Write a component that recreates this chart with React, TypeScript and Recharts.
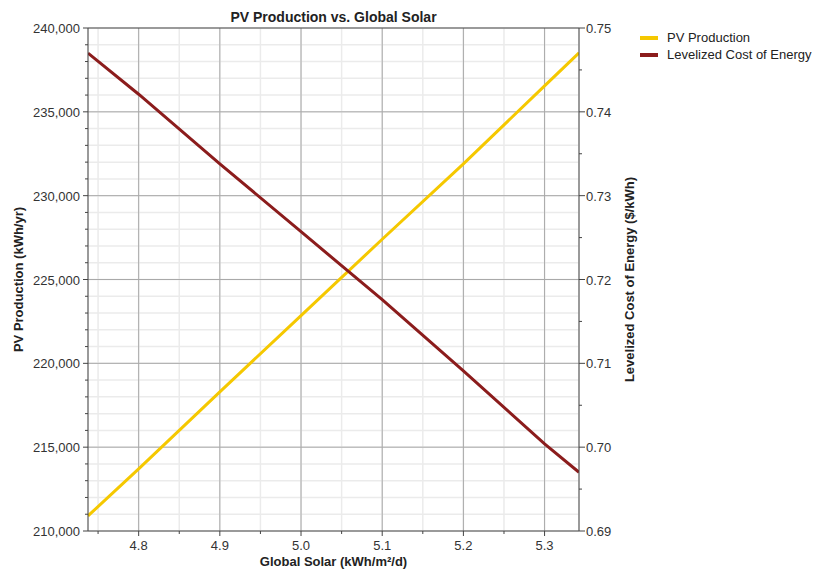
import React from 'react';
import { LineChart, Line, XAxis, YAxis, CartesianGrid, ReferenceLine } from 'recharts';

// values
const globalSolar = [4.7376, 4.8, 4.9, 5.0, 5.1, 5.2, 5.3, 5.3424];
const pvProduction = [210900, 213700, 218300, 222850, 227400, 231900, 236550, 238520];
const levelizedCost = [0.7470, 0.7421, 0.7338, 0.7257, 0.7176, 0.7091, 0.7004, 0.6970];

const xTicks = [4.75, 4.8, 4.85, 4.9, 4.95, 5.0, 5.05, 5.1, 5.15, 5.2, 5.25, 5.3];
const xMajor = [4.8, 4.9, 5.0, 5.1, 5.2, 5.3];
const leftTicks = [
  210000, 211000, 212000, 213000, 214000, 215000, 216000, 217000, 218000, 219000,
  220000, 221000, 222000, 223000, 224000, 225000, 226000, 227000, 228000, 229000,
  230000, 231000, 232000, 233000, 234000, 235000, 236000, 237000, 238000, 239000, 240000,
];
const leftMajor = [210000, 215000, 220000, 225000, 230000, 235000, 240000];
const rightTicks = [0.69, 0.695, 0.7, 0.705, 0.71, 0.715, 0.72, 0.725, 0.73, 0.735, 0.74, 0.745, 0.75];
const rightMajor = [0.69, 0.7, 0.71, 0.72, 0.73, 0.74, 0.75];

const seriesNames = ['PV Production', 'Levelized Cost of Energy'];
const seriesColors = ['#f5c800', '#8b1c1c'];

const data = globalSolar.map((x, i) => ({ x, pv: pvProduction[i], lcoe: levelizedCost[i] }));

const FONT = '"Liberation Sans", Arial, sans-serif';
const AXIS = '#444';
const MAJOR_GRID = '#a9a9a9';

const isMajor = (list: number[], v: number) => list.some((m) => Math.abs(m - v) < 1e-9);

const XTick = (props: any) => {
  const { x, y, payload } = props;
  const major = isMajor(xMajor, payload.value);
  return (
    <g>
      <line x1={x} x2={x} y1={y} y2={y + (major ? 5 : 3)} stroke={AXIS} />
      {major && (
        <text x={x} y={y + 19} textAnchor="middle" fontSize={13} fontFamily={FONT} fill="#333">
          {payload.value.toFixed(1)}
        </text>
      )}
    </g>
  );
};

const LeftTick = (props: any) => {
  const { x, y, payload } = props;
  const major = isMajor(leftMajor, payload.value);
  return (
    <g>
      <line x1={x} x2={x - (major ? 5 : 3)} y1={y} y2={y} stroke={AXIS} />
      {major && (
        <text x={x - 8} y={y + 5} textAnchor="end" fontSize={13} fontFamily={FONT} fill="#333">
          {payload.value.toLocaleString('en-US')}
        </text>
      )}
    </g>
  );
};

const RightTick = (props: any) => {
  const { x, y, payload } = props;
  const major = isMajor(rightMajor, payload.value);
  return (
    <g>
      <line x1={x} x2={x + (major ? 6 : 3)} y1={y} y2={y} stroke={AXIS} />
      {major && (
        <text x={x + 7} y={y + 5} textAnchor="start" fontSize={13} fontFamily={FONT} fill="#333">
          {payload.value.toFixed(2)}
        </text>
      )}
    </g>
  );
};

const labelStyle = { fontSize: 13, fontWeight: 'bold', fontFamily: FONT, fill: '#222' };

export default function App() {
  return (
    <div style={{ position: 'absolute', left: 0, top: 0, width: 830, height: 570, background: '#fff' }}>
      <LineChart width={830} height={570} data={data} margin={{ top: 28, right: 0, bottom: 0, left: 0 }}>
        <CartesianGrid yAxisId="left" stroke="#ebebeb" strokeWidth={1.5} />
        <XAxis
          dataKey="x"
          type="number"
          domain={[4.7376, 5.3424]}
          ticks={xTicks}
          interval={0}
          allowDataOverflow
          height={39}
          tickSize={0}
          tickMargin={0}
          tickLine={false}
          stroke={AXIS}
          tick={<XTick />}
          label={{ value: 'Global Solar (kWh/m²/d)', position: 'center', dy: 11, style: labelStyle }}
        />
        <YAxis
          yAxisId="left"
          orientation="left"
          domain={[210000, 240000]}
          ticks={leftTicks}
          interval={0}
          width={88}
          tickSize={0}
          tickMargin={0}
          tickLine={false}
          stroke={AXIS}
          tick={<LeftTick />}
          label={{ value: 'PV Production (kWh/yr)', angle: -90, position: 'center', dx: -26, style: labelStyle }}
        />
        <YAxis
          yAxisId="right"
          orientation="right"
          domain={[0.69, 0.75]}
          ticks={rightTicks}
          interval={0}
          width={251}
          tickSize={0}
          tickMargin={0}
          tickLine={false}
          stroke={AXIS}
          tick={<RightTick />}
          label={{ value: 'Levelized Cost of Energy ($/kWh)', angle: -90, position: 'center', dx: -75, style: labelStyle }}
        />
        {xMajor.map((v) => (
          <ReferenceLine key={'x' + v} x={v} yAxisId="left" stroke={MAJOR_GRID} />
        ))}
        {leftMajor.slice(1, -1).map((v) => (
          <ReferenceLine key={'y' + v} y={v} yAxisId="left" stroke={MAJOR_GRID} />
        ))}
        <ReferenceLine
          y={240000}
          yAxisId="left"
          stroke={AXIS}
          label={{ value: 'PV Production vs. Global Solar', position: 'top', offset: 6, style: { ...labelStyle, fontSize: 14 } }}
        />
        <Line
          yAxisId="left"
          dataKey="pv"
          name={seriesNames[0]}
          stroke={seriesColors[0]}
          strokeWidth={3}
          dot={false}
          isAnimationActive={false}
        />
        <Line
          yAxisId="right"
          dataKey="lcoe"
          name={seriesNames[1]}
          stroke={seriesColors[1]}
          strokeWidth={3}
          dot={false}
          isAnimationActive={false}
        />
      </LineChart>
      <div style={{ position: 'absolute', left: 640, top: 29, fontFamily: FONT, fontSize: 13, color: '#222' }}>
        {seriesNames.map((n, i) => (
          <div key={n} style={{ display: 'flex', alignItems: 'center', height: 17 }}>
            <span style={{ display: 'inline-block', width: 18, height: 4, background: seriesColors[i], marginRight: 9 }} />
            <span>{n}</span>
          </div>
        ))}
      </div>
    </div>
  );
}
